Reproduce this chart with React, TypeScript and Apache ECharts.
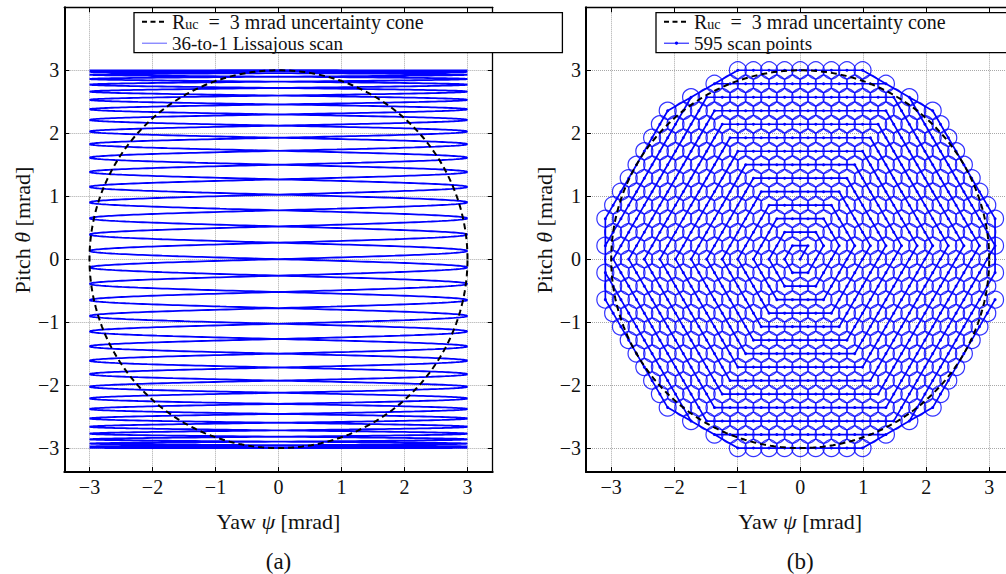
import React, { useEffect, useRef } from "react";
import * as echarts from "echarts";

// ---------- data ----------
// Axis limits (mrad) and tick labels
const X_MIN = -3.4;
const X_MAX = 3.4;
const Y_MIN = -3.38;
const Y_MAX = 4;
const X_TICKS = [-3, -2, -1, 0, 1, 2, 3];
const Y_TICKS = [-3, -2, -1, 0, 1, 2, 3];

// Uncertainty cone
const UNCERTAINTY_RADIUS = 3; // R_uc, mrad
const CONE_SEGMENTS = 360;

// Panel (a): 36-to-1 Lissajous scan
const LISSAJOUS_RATIO = 36; // yaw cycles per pitch cycle
const LISSAJOUS_AMPLITUDE = 3; // mrad
const SAMPLES_PER_SWEEP = 90;

// Panel (b): hexagonal spiral of scan points (595 points)
const HEX_RINGS = 14;
const HEX_ROW_SPACING = 3 / 14; // mrad between rows (ring 14 top row at 3 mrad)
const HEX_CLIP_RADIUS = 3.2; // mrad

// Legend / series names
const NAME_CONE = "R_uc = 3 mrad uncertainty cone";
const NAME_LISS = "36-to-1 Lissajous scan";
const NAME_POINTS = "595 scan points";

const PANEL_CAPTIONS = ["(a)", "(b)"];

// ---------- geometry built from the parameters above ----------
function conePoints(): number[][] {
  const pts: number[][] = [];
  for (let i = 0; i <= CONE_SEGMENTS; i++) {
    const a = (2 * Math.PI * i) / CONE_SEGMENTS;
    pts.push([UNCERTAINTY_RADIUS * Math.cos(a), UNCERTAINTY_RADIUS * Math.sin(a)]);
  }
  return pts;
}

function lissajousPoints(): number[][] {
  const n = LISSAJOUS_RATIO * 2 * SAMPLES_PER_SWEEP;
  const pts: number[][] = [];
  for (let i = 0; i <= n; i++) {
    const t = (2 * Math.PI * i) / n;
    pts.push([
      LISSAJOUS_AMPLITUDE * Math.sin(LISSAJOUS_RATIO * t),
      LISSAJOUS_AMPLITUDE * Math.sin(t),
    ]);
  }
  return pts;
}

function hexSpiralPoints(): number[][] {
  const h = HEX_ROW_SPACING;
  const d = (2 * h) / Math.sqrt(3);
  const pos = (i: number, j: number) => [(i + j / 2) * d, j * h];
  const dirs = [
    [-1, 1],
    [-1, 0],
    [0, -1],
    [1, -1],
    [1, 0],
    [0, 1],
  ];
  const pts: number[][] = [[0, 0]];
  for (let m = 1; m <= HEX_RINGS; m++) {
    let i = m;
    let j = 0;
    for (const [di, dj] of dirs) {
      for (let s = 0; s < m; s++) {
        i += di;
        j += dj;
        const p = pos(i, j);
        if (Math.hypot(p[0], p[1]) <= HEX_CLIP_RADIUS) pts.push(p);
      }
    }
  }
  return pts;
}

// ---------- styling ----------
const FONT = "'Liberation Serif', 'Times New Roman', serif";
const BLUE = "#0000ff";
const TEXT = "#111";

const GRID_TOP = 7.3;
const GRID_H = 464.7;
const GRID_W = 428.4;
const GRID_LEFTS = [64.3, 586];

const isTick = (v: number, ticks: number[]) =>
  ticks.some((t) => Math.abs(t - v) < 1e-9);
const fmt = (ticks: number[]) => (v: number) => {
  if (!isTick(v, ticks)) return "";
  const r = Math.round(v);
  return r < 0 ? "\u2212" + String(-r) : String(r);
};

function axisPair(kind: "x" | "y", grid: number) {
  const ticks = kind === "x" ? X_TICKS : Y_TICKS;
  const base = {
    type: "value",
    gridIndex: grid,
    min: kind === "x" ? X_MIN : Y_MIN,
    max: kind === "x" ? X_MAX : Y_MAX,
    minInterval: 1,
    maxInterval: 1,
    axisTick: { show: true, inside: true, length: 5, lineStyle: { color: "#000", width: 1 } },
  };
  const main = {
    ...base,
    position: kind === "x" ? "bottom" : "left",
    axisLine: { show: true, onZero: false, lineStyle: { color: "#000", width: 2 } },
    axisLabel: {
      formatter: fmt(ticks),
      fontFamily: FONT,
      fontSize: 20,
      color: TEXT,
      margin: 5,
    },
    splitLine: { show: true, lineStyle: { color: "#a8a8a8", type: "dotted", width: 1 } },
  };
  const other = {
    ...base,
    position: kind === "x" ? "top" : "right",
    axisLine: { show: true, onZero: false, lineStyle: { color: "#000", width: 1.3 } },
    axisLabel: { show: false },
    splitLine: { show: false },
  };
  return [main, other];
}

const legendRich = {
  n: { fontFamily: FONT, fontSize: 19, color: TEXT, lineHeight: 20, verticalAlign: "middle" },
  r: { fontFamily: FONT, fontSize: 20, color: TEXT, lineHeight: 20, verticalAlign: "middle" },
  s: { fontFamily: FONT, fontSize: 14, color: TEXT, lineHeight: 14, verticalAlign: "bottom" },
};
// math spacing around "=" in the LaTeX-set first entry
const legendFormatter = (name: string) =>
  name === NAME_CONE
    ? "{r|R}{s|uc}{r|\u2002=\u20023 mrad uncertainty cone}"
    : "{n|" + name + "}";

const nameRich = {
  n: { fontFamily: FONT, fontSize: 22, color: TEXT },
  i: { fontFamily: FONT, fontSize: 22, color: TEXT, fontStyle: "italic" },
};

export default function App() {
  const ref = useRef<HTMLDivElement>(null);

  useEffect(() => {
    document.body.style.margin = "0";
    if (!ref.current) return;
    const chart = echarts.init(ref.current, null, { renderer: "svg" });

    const cone = conePoints();
    const liss = lissajousPoints();
    const hex = hexSpiralPoints();

    const [x0, x0t] = axisPair("x", 0);
    const [x1, x1t] = axisPair("x", 1);
    const [y0, y0r] = axisPair("y", 0);
    const [y1, y1r] = axisPair("y", 1);

    const coneSeries = (ax: number) => ({
      type: "line",
      name: NAME_CONE,
      xAxisIndex: ax,
      yAxisIndex: ax,
      data: cone,
      symbol: "none",
      silent: true,
      z: 5,
      lineStyle: { color: "#000", width: 2, type: [6, 4] },
    });

    const legendBox = (x: number) => ({
      type: "rect",
      z: 10,
      shape: { x, y: 12.7, width: GRID_W, height: 40 },
      style: { fill: "#fff", stroke: "#000", lineWidth: 1.3 },
    });

    const cx = (g: number) => GRID_LEFTS[g] + GRID_W / 2;

    const legendCommon = {
      orient: "vertical",
      top: 11.7,
      z: 11,
      padding: 0,
      itemGap: 2,
      itemWidth: 25,
      itemHeight: 4,
      selectedMode: false,
      formatter: legendFormatter,
      textStyle: { fontFamily: FONT, fontSize: 19, color: TEXT, rich: legendRich },
    };

    const option: any = {
      animation: false,
      backgroundColor: "#fff",
      grid: GRID_LEFTS.map((left) => ({
        left,
        top: GRID_TOP,
        width: GRID_W,
        height: GRID_H,
        outerBoundsMode: "none",
        containLabel: false,
      })),
      xAxis: [x0, x0t, x1, x1t],
      yAxis: [y0, y0r, y1, y1r],
      legend: [
        {
          ...legendCommon,
          left: 141,
          data: [
            {
              name: NAME_CONE,
              itemStyle: { opacity: 0 },
              lineStyle: { color: "#000", width: 2, type: [5, 3.5] },
            },
            {
              name: NAME_LISS,
              itemStyle: { opacity: 0 },
              lineStyle: { color: "#5a5aff", width: 1 },
            },
          ],
        },
        {
          ...legendCommon,
          left: 663,
          data: [
            {
              name: NAME_CONE,
              itemStyle: { opacity: 0 },
              lineStyle: { color: "#000", width: 2, type: [5, 3.5] },
            },
            {
              name: NAME_POINTS,
              lineStyle: { color: BLUE, width: 1 },
            },
          ],
        },
      ],
      graphic: [
        legendBox(134),
        legendBox(656),
        ...[0, 1].map((g) => ({
          type: "text",
          x: cx(g),
          y: 521.7,
          style: {
            text: "{n|Yaw }{i|\u03c8}{n| [mrad]}",
            rich: nameRich,
            align: "center",
            verticalAlign: "middle",
            fill: TEXT,
          },
        })),
        ...[0, 1].map((g) => ({
          type: "text",
          x: GRID_LEFTS[g] - 42,
          y: 230,
          rotation: Math.PI / 2,
          style: {
            text: "{n|Pitch }{i|\u03b8}{n| [mrad]}",
            rich: nameRich,
            align: "center",
            verticalAlign: "middle",
            fill: TEXT,
          },
        })),
        ...[0, 1].map((g) => ({
          type: "text",
          x: cx(g),
          y: 561.7,
          style: {
            text: PANEL_CAPTIONS[g],
            fontFamily: FONT,
            fontSize: 23,
            fill: TEXT,
            align: "center",
            verticalAlign: "middle",
          },
        })),
      ],
      series: [
        {
          type: "line",
          name: NAME_LISS,
          xAxisIndex: 0,
          yAxisIndex: 0,
          data: liss,
          symbol: "none",
          silent: true,
          z: 3,
          lineStyle: { color: BLUE, width: 1.8 },
        },
        coneSeries(0),
        {
          type: "scatter",
          name: "scan footprints",
          xAxisIndex: 2,
          yAxisIndex: 2,
          data: hex,
          symbol: "circle",
          symbolSize: 17,
          silent: true,
          z: 2,
          itemStyle: { color: "rgba(0,0,0,0)", borderColor: BLUE, borderWidth: 1.2 },
        },
        {
          type: "line",
          name: NAME_POINTS,
          xAxisIndex: 2,
          yAxisIndex: 2,
          data: hex,
          symbol: "circle",
          symbolSize: 3,
          showSymbol: true,
          silent: true,
          z: 3,
          itemStyle: { color: BLUE },
          lineStyle: { color: BLUE, width: 1.7 },
        },
        coneSeries(2),
      ],
    };

    chart.setOption(option);
    return () => chart.dispose();
  }, []);

  return <div ref={ref} style={{ width: 1006, height: 574 }} />;
}
